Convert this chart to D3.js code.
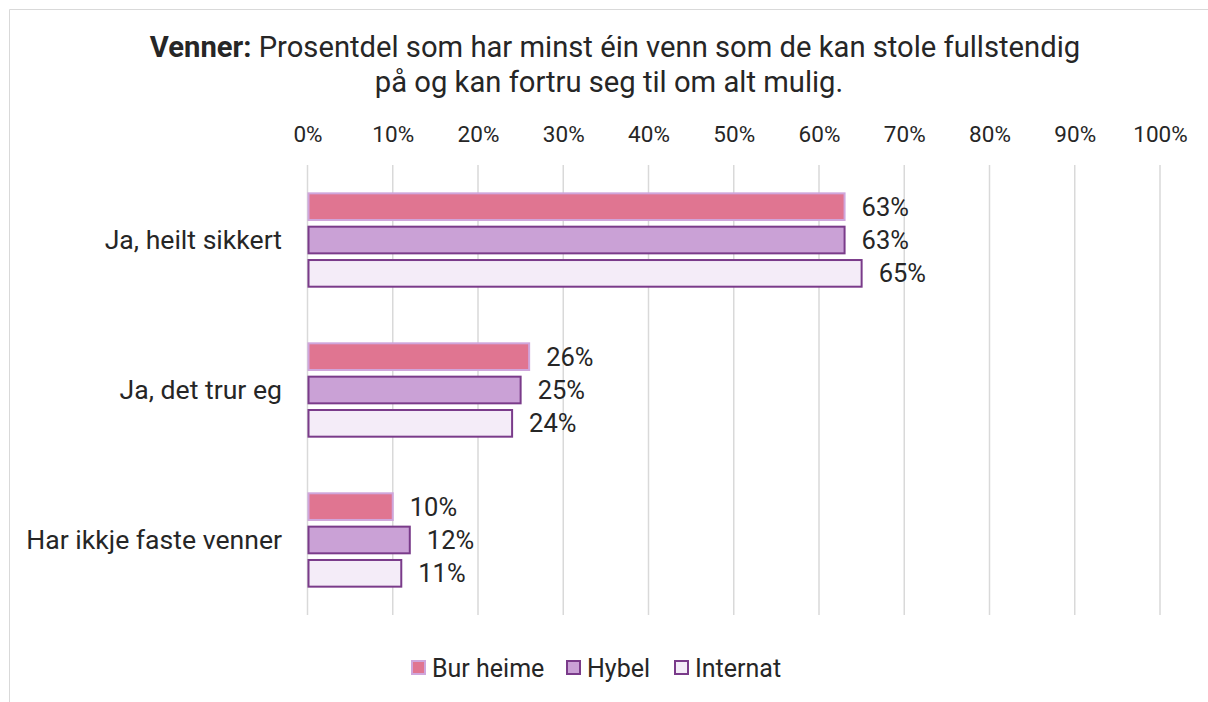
<!DOCTYPE html>
<html>
<head>
<meta charset="utf-8">
<script src="https://cdnjs.cloudflare.com/ajax/libs/d3/7.8.5/d3.min.js"></script>
<style>
  body { margin: 0; background: #fff; }
  svg text { font-family: Roboto, "Noto Sans", sans-serif; fill: #262626; }
</style>
</head>
<body>
<div id="chart"></div>
<script>
// data
var categories = ["Ja, heilt sikkert", "Ja, det trur eg", "Har ikkje faste venner"];
var series = ["Bur heime", "Hybel", "Internat"];
var burHeime = [63, 26, 10];
var hybel = [63, 25, 12];
var internat = [65, 24, 11];
var ticks = [0, 10, 20, 30, 40, 50, 60, 70, 80, 90, 100];

var values = [burHeime, hybel, internat];
var fills = ["#e07591", "#caa1d6", "#f4ecf8"];
var strokes = ["#cfa6dc", "#7a3b8a", "#7a3b8a"];

var W = 1208, H = 702;
var margin = {top: 165, right: 48, bottom: 87, left: 307.5};

var svg = d3.select("#chart").append("svg")
    .attr("width", W)
    .attr("height", H);

// chart frame (only top and left edges visible)
svg.append("path")
    .attr("d", "M9.5," + H + " V9.5 H" + W)
    .attr("fill", "none")
    .attr("stroke", "#d9d9d9")
    .attr("stroke-width", 1);

var x = d3.scaleLinear().domain([0, 100]).range([margin.left, W - margin.right]);
var y = d3.scaleBand().domain(categories).range([margin.top, H - margin.bottom]).paddingInner(0.333).paddingOuter(0.1667);
var ySub = d3.scaleBand().domain(series).range([0, y.bandwidth()]).paddingInner(0.2).paddingOuter(0.1);

// title
var title = svg.append("text")
    .attr("text-anchor", "middle")
    .style("font-size", "29.2px");
var t1 = title.append("tspan").attr("x", 615).attr("y", 57);
t1.append("tspan").style("font-weight", "bold").text("Venner:");
t1.append("tspan").text(" Prosentdel som har minst éin venn som de kan stole fullstendig");
title.append("tspan").attr("x", 609).attr("y", 92).text("på og kan fortru seg til om alt mulig.");

// gridlines
svg.append("g").selectAll("line")
    .data(ticks)
    .join("line")
    .attr("x1", function(d){ return x(d); })
    .attr("x2", function(d){ return x(d); })
    .attr("y1", margin.top)
    .attr("y2", H - margin.bottom)
    .attr("stroke", "#d9d9d9")
    .attr("stroke-width", 1.5);

// top axis
var xAxis = d3.axisTop(x).tickValues(ticks).tickFormat(function(d){ return d + "%"; }).tickSize(0).tickPadding(0);
svg.append("g")
    .attr("transform", "translate(0,142)")
    .call(xAxis)
    .call(function(g){ g.select(".domain").remove(); })
    .selectAll("text")
    .style("font-size", "22.5px")
    .attr("fill", "#262626");

// category labels
svg.append("g").selectAll("text")
    .data(categories)
    .join("text")
    .attr("x", 282)
    .attr("y", function(d){ return y(d) + y.bandwidth() / 2; })
    .attr("dy", "0.33em")
    .attr("text-anchor", "end")
    .style("font-size", "26.6px")
    .text(function(d){ return d; });

// bars
series.forEach(function(s, si){
  var g = svg.append("g");
  g.selectAll("rect")
    .data(values[si])
    .join("rect")
    .attr("x", x(0) + 1)
    .attr("y", function(d, i){ return y(categories[i]) + ySub(s); })
    .attr("width", function(d){ return x(d) - x(0) - 1; })
    .attr("height", ySub.bandwidth())
    .attr("fill", fills[si])
    .attr("stroke", strokes[si])
    .attr("stroke-width", 2);

  g.selectAll("text")
    .data(values[si])
    .join("text")
    .attr("x", function(d){ return x(d) + 17; })
    .attr("y", function(d, i){ return y(categories[i]) + ySub(s) + ySub.bandwidth() / 2; })
    .attr("dy", "0.35em")
    .style("font-size", "25.5px")
    .text(function(d){ return d + "%"; });
});

// legend
var legendX = [412, 567, 675];
var legend = svg.append("g").selectAll("g")
    .data(series)
    .join("g")
    .attr("transform", function(d, i){ return "translate(" + legendX[i] + ",661)"; });
legend.append("rect")
    .attr("width", 13)
    .attr("height", 13)
    .attr("fill", function(d, i){ return fills[i]; })
    .attr("stroke", function(d, i){ return strokes[i]; })
    .attr("stroke-width", 2);
legend.append("text")
    .attr("x", 20)
    .attr("y", 7)
    .attr("dy", "0.35em")
    .style("font-size", "25px")
    .text(function(d){ return d; });
</script>
</body>
</html>
